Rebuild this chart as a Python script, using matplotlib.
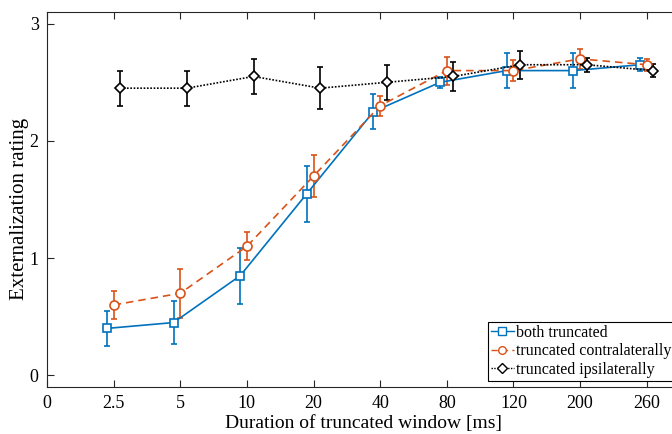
import matplotlib
matplotlib.use("Agg")
import matplotlib.pyplot as plt
from matplotlib.lines import Line2D
import numpy as np

categories = ["0", "2.5", "5", "10", "20", "40", "80", "120", "200", "260"]
data_cats = ["2.5", "5", "10", "20", "40", "80", "120", "200", "260"]

both_mean = [0.40, 0.45, 0.85, 1.55, 2.25, 2.50, 2.60, 2.60, 2.65]
both_err = [0.15, 0.18, 0.24, 0.24, 0.15, 0.045, 0.15, 0.15, 0.055]

contra_mean = [0.60, 0.70, 1.10, 1.70, 2.30, 2.60, 2.60, 2.70, 2.65]
contra_err = [0.12, 0.21, 0.12, 0.18, 0.085, 0.12, 0.09, 0.085, 0.05]

ipsi_mean = [2.45, 2.45, 2.55, 2.45, 2.50, 2.55, 2.65, 2.65, 2.60]
ipsi_err = [0.15, 0.15, 0.15, 0.18, 0.15, 0.12, 0.12, 0.06, 0.055]

labels = ['both truncated', 'truncated contralaterally', 'truncated ipsilaterally']

plt.rcParams['font.family'] = ['Liberation Serif', 'DejaVu Serif']

W, H = 672, 434
fig = plt.figure(figsize=(W / 100, H / 100), dpi=100)
left_px, right_px, top_px, bottom_px = 47, 680, 12, 387
ax = fig.add_axes([left_px / W, 1 - bottom_px / H, (right_px - left_px) / W, (bottom_px - top_px) / H])

idx = {c: i for i, c in enumerate(categories)}
xpos = np.array([idx[c] for c in data_cats], dtype=float)

blue = '#0072BD'
orange = '#D95319'

styles = [
    dict(color=blue, ls='-', marker='s', ms=6),
    dict(color=orange, ls=(0, (4.5, 3)), marker='o', ms=6.5),
    dict(color='black', ls=(0, (1, 1)), marker='D', ms=5.5),
]
series = [(xpos - 0.1, both_mean, both_err), (xpos, contra_mean, contra_err),
          (xpos + 0.1, ipsi_mean, ipsi_err)]

handles = []
for (x, m, e), st, lab in zip(series, styles, labels):
    ax.errorbar(x, m, yerr=e, color=st['color'], ls=st['ls'], lw=1.2,
                marker=st['marker'], ms=st['ms'], mfc='white', mec=st['color'], mew=1.2,
                capsize=2, elinewidth=1.2, capthick=1.2)
    handles.append(Line2D([], [], color=st['color'], ls=st['ls'], lw=1.0, marker=st['marker'],
                          ms=st['ms'] * 0.85, mfc='white', mec=st['color'], mew=1.0, label=lab))

ax.set_xlim(0, 9.5)
ax.set_ylim(-0.1, 3.1)
ax.set_xticks(range(len(categories)))
ax.set_xticklabels(categories)
ax.set_yticks([0, 1, 2, 3])
ax.tick_params(direction='in', length=5, width=0.8, labelsize=13, top=True, right=True,
               colors='#262626', labelcolor='black', pad=6)
for s in ax.spines.values():
    s.set_color('#262626')
    s.set_linewidth(0.8)

ax.set_xlabel('Duration of truncated window [ms]', fontsize=14, labelpad=2)
ax.set_ylabel('Externalization rating', fontsize=15)
ax.yaxis.set_label_coords(-0.029, 0.475)

leg = ax.legend(handles=handles, loc='lower left', bbox_to_anchor=(488 / W, 1 - 381 / H),
                bbox_transform=fig.transFigure, fontsize=11.5, frameon=True, fancybox=False,
                edgecolor='black', framealpha=1, handlelength=1.4, handletextpad=0.15,
                borderpad=0.2, labelspacing=0.15, borderaxespad=0)
leg.get_frame().set_linewidth(0.8)

fig.savefig('out.png', dpi=100)
